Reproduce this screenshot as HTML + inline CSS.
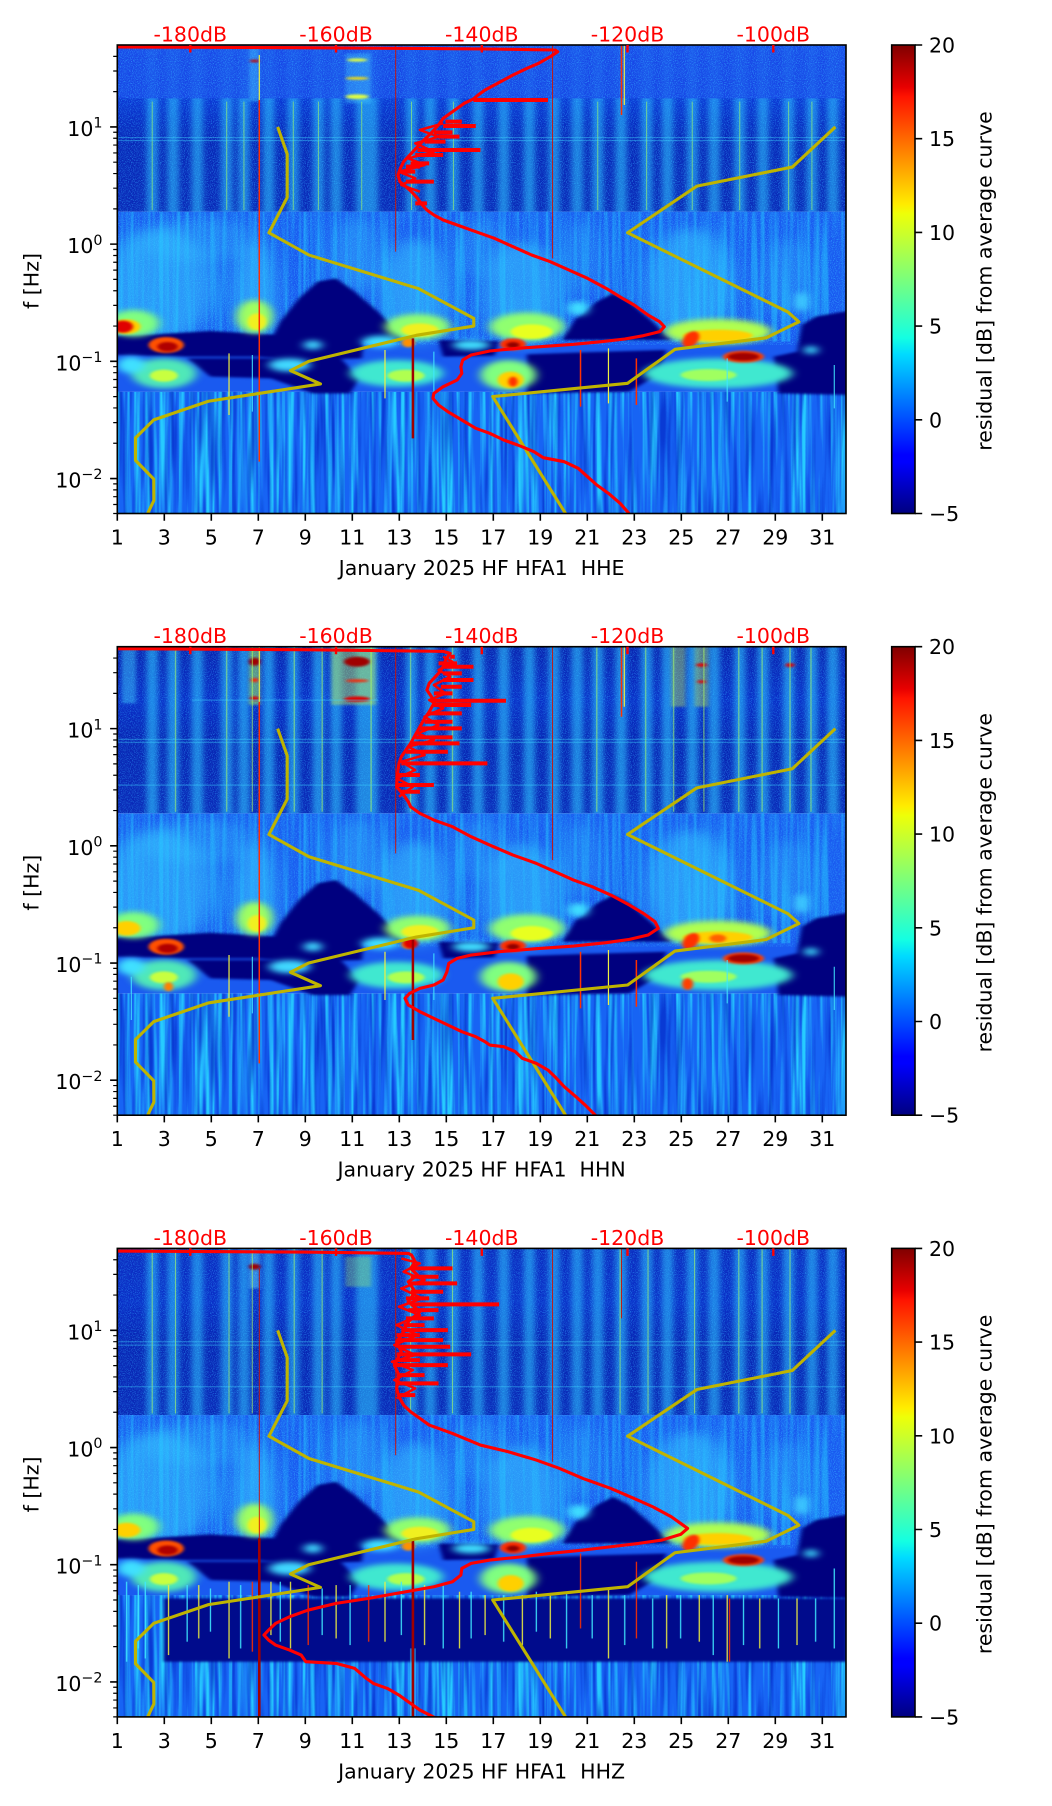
<!DOCTYPE html>
<html><head><meta charset="utf-8">
<style>
html,body{margin:0;padding:0;background:#fff;}
svg{display:block;}
text{font-family:"DejaVu Sans","Liberation Sans",sans-serif;font-size:20.5px;}
</style></head><body>
<svg width="1052" height="1806" viewBox="0 0 1052 1806" xmlns="http://www.w3.org/2000/svg">
<defs>
 <linearGradient id="jet" x1="0" y1="1" x2="0" y2="0">
  <stop offset="0" stop-color="#000080"/><stop offset="0.11" stop-color="#0000ff"/><stop offset="0.125" stop-color="#0000ff"/>
  <stop offset="0.34" stop-color="#00dbff"/><stop offset="0.375" stop-color="#14ffe2"/><stop offset="0.5" stop-color="#7bff7b"/>
  <stop offset="0.64" stop-color="#eeff08"/><stop offset="0.66" stop-color="#ffec00"/><stop offset="0.89" stop-color="#ff1300"/>
  <stop offset="0.91" stop-color="#e80000"/><stop offset="1" stop-color="#800000"/>
 </linearGradient>
 <linearGradient id="gM1" x1="0" y1="0" x2="0" y2="1">
  <stop offset="0" stop-color="#1a4ae8"/><stop offset="0.32" stop-color="#0c3ad6"/><stop offset="0.56" stop-color="#0828b8"/><stop offset="1" stop-color="#0a2ab8"/>
 </linearGradient>
 <linearGradient id="gM2" x1="0" y1="0" x2="0" y2="1">
  <stop offset="0" stop-color="#0a24b0"/><stop offset="0.32" stop-color="#0a30c8"/><stop offset="0.56" stop-color="#0826b4"/><stop offset="1" stop-color="#0a2ab8"/>
 </linearGradient>
 <linearGradient id="gM3" x1="0" y1="0" x2="0" y2="1">
  <stop offset="0" stop-color="#0c2cc0"/><stop offset="0.32" stop-color="#0a30c8"/><stop offset="0.56" stop-color="#0826b4"/><stop offset="1" stop-color="#0a2ab8"/>
 </linearGradient>
 <filter id="spk" x="0" y="0" width="1" height="1" color-interpolation-filters="sRGB">
  <feTurbulence type="fractalNoise" baseFrequency="0.5 0.35" numOctaves="1" seed="3"/>
  <feColorMatrix type="matrix" values="0 0 0 0 0.2  0 0 0 0 0.65  0 0 0 0 1  4 0 0 0 -1.9"/>
  <feComposite in2="SourceAlpha" operator="in"/>
 </filter>
 <filter id="strL" x="0" y="0" width="1" height="1" color-interpolation-filters="sRGB">
  <feTurbulence type="fractalNoise" baseFrequency="0.11 0.002" numOctaves="2" seed="7"/>
  <feColorMatrix type="matrix" values="0 0 0 0 0.15  0 0 0 0 0.8  0 0 0 0 1  3.2 0 0 0 -1.35"/>
  <feComposite in2="SourceAlpha" operator="in"/>
 </filter>
 <filter id="strD" x="0" y="0" width="1" height="1" color-interpolation-filters="sRGB">
  <feTurbulence type="fractalNoise" baseFrequency="0.09 0.003" numOctaves="2" seed="11"/>
  <feColorMatrix type="matrix" values="0 0 0 0 0  0 0 0 0 0.12  0 0 0 0 0.75  0 3.2 0 0 -1.5"/>
  <feComposite in2="SourceAlpha" operator="in"/>
 </filter>
 <filter id="b25" x="-50%" y="-50%" width="200%" height="200%" color-interpolation-filters="sRGB"><feGaussianBlur stdDeviation="22 16"/></filter>
 <filter id="b10" x="-50%" y="-50%" width="200%" height="200%" color-interpolation-filters="sRGB"><feGaussianBlur stdDeviation="10 8"/></filter>
 <filter id="b6" x="-20%" y="-20%" width="140%" height="140%" color-interpolation-filters="sRGB"><feGaussianBlur stdDeviation="5 4"/></filter>
 <filter id="b4" x="-50%" y="-50%" width="200%" height="200%" color-interpolation-filters="sRGB"><feGaussianBlur stdDeviation="4 3"/></filter>
 <filter id="bx" x="-10%" y="-5%" width="120%" height="110%" color-interpolation-filters="sRGB"><feGaussianBlur stdDeviation="6 1"/></filter>
 <clipPath id="cp"><rect x="0" y="0" width="1565.3" height="1405.5"/></clipPath>

 <g id="st">
  <rect x="63" y="0" width="24" height="500"/><rect x="108" y="0" width="24" height="500"/><rect x="160" y="0" width="24" height="500"/>
  <rect x="223" y="0" width="24" height="500"/><rect x="260" y="0" width="24" height="500"/><rect x="313" y="0" width="24" height="500"/>
  <rect x="366" y="0" width="24" height="500"/><rect x="420" y="0" width="24" height="500"/><rect x="458" y="0" width="24" height="500"/>
  <rect x="513" y="0" width="24" height="500"/><rect x="536" y="0" width="24" height="500"/><rect x="620" y="0" width="24" height="500"/>
  <rect x="660" y="0" width="24" height="500"/><rect x="710" y="0" width="24" height="500"/><rect x="763" y="0" width="24" height="500"/>
  <rect x="818" y="0" width="24" height="500"/><rect x="873" y="0" width="24" height="500"/><rect x="926" y="0" width="24" height="500"/>
  <rect x="976" y="0" width="24" height="500"/><rect x="1020" y="0" width="24" height="500"/><rect x="1070" y="0" width="24" height="500"/>
  <rect x="1125" y="0" width="24" height="500"/><rect x="1170" y="0" width="24" height="500"/><rect x="1223" y="0" width="24" height="500"/>
  <rect x="1270" y="0" width="24" height="500"/><rect x="1325" y="0" width="24" height="500"/><rect x="1375" y="0" width="24" height="500"/>
  <rect x="1430" y="0" width="24" height="500"/><rect x="1480" y="0" width="24" height="500"/><rect x="1525" y="0" width="24" height="500"/>
 </g>

 <g id="low">
  <rect x="0" y="500" width="1568" height="540" fill="#1a5af0"/>
  <rect x="0" y="500" width="1568" height="400" fill="#000" filter="url(#spk)" opacity=".7"/>
  <g fill="#38c8ff" filter="url(#b25)">
   <ellipse cx="90" cy="720" rx="120" ry="170" opacity=".55"/>
   <ellipse cx="175" cy="585" rx="130" ry="65" opacity=".3"/>
   <ellipse cx="295" cy="740" rx="45" ry="150" opacity=".6"/>
   <ellipse cx="515" cy="630" rx="55" ry="110" opacity=".35"/>
   <ellipse cx="640" cy="740" rx="75" ry="160" opacity=".55"/>
   <ellipse cx="780" cy="610" rx="60" ry="90" opacity=".25"/>
   <ellipse cx="870" cy="750" rx="85" ry="160" opacity=".55"/>
   <ellipse cx="1000" cy="640" rx="45" ry="110" opacity=".25"/>
   <ellipse cx="1230" cy="720" rx="95" ry="170" opacity=".55"/>
   <ellipse cx="1440" cy="700" rx="55" ry="120" opacity=".3"/>
  </g>
  <rect x="0" y="500" width="1568" height="390" fill="#000" filter="url(#strL)" opacity=".5"/>
  <g fill="#00007f" filter="url(#b6)">
   <polygon points="330,885 350,830 390,760 430,710 470,700 510,740 560,800 605,865 610,890"/>
   <polygon points="955,885 985,820 1030,770 1065,745 1100,770 1150,830 1190,885"/>
   <polygon points="1470,840 1500,815 1580,795 1580,1050 1420,1045 1410,935 1460,920"/>
   <polygon points="-10,872 80,868 200,858 300,866 420,876 530,882 525,940 400,945 300,935 150,935 -10,930"/>
   <polygon points="690,885 820,888 810,932 700,935"/>
   <polygon points="880,928 1000,922 1180,915 1160,990 1100,1040 880,1045"/>
   <polygon points="150,940 480,940 520,1000 500,1045 420,1045 330,1000 200,995"/>
  </g>
  <g filter="url(#b10)">
   <ellipse cx="35" cy="835" rx="55" ry="40" fill="#80ff80"/>
   <ellipse cx="295" cy="815" rx="38" ry="50" fill="#a0ff60"/>
   <ellipse cx="645" cy="845" rx="70" ry="38" fill="#90ff70"/>
   <ellipse cx="880" cy="845" rx="80" ry="42" fill="#90ff70"/>
   <ellipse cx="1290" cy="860" rx="115" ry="38" fill="#b0ff50"/>
   <ellipse cx="990" cy="790" rx="22" ry="22" fill="#40e0ff"/>
   <ellipse cx="1470" cy="770" rx="14" ry="30" fill="#40d0ff"/>
   <ellipse cx="100" cy="985" rx="70" ry="45" fill="#50e8b8"/>
   <ellipse cx="30" cy="960" rx="30" ry="25" fill="#40e0ff"/>
   <ellipse cx="370" cy="960" rx="45" ry="20" fill="#40d8ff"/>
   <ellipse cx="600" cy="985" rx="100" ry="40" fill="#40e8d0"/>
   <ellipse cx="840" cy="990" rx="60" ry="45" fill="#80ff80"/>
   <ellipse cx="1290" cy="985" rx="160" ry="45" fill="#40e8d0"/>
   <ellipse cx="1490" cy="915" rx="15" ry="12" fill="#40e0ff"/>
   <ellipse cx="420" cy="900" rx="20" ry="14" fill="#40d8ff"/>
   <ellipse cx="565" cy="890" rx="40" ry="18" fill="#40e0ff"/>
   <ellipse cx="760" cy="900" rx="40" ry="15" fill="#40e0ff"/>
  </g>
  <g filter="url(#b4)">
   <ellipse cx="300" cy="830" rx="20" ry="25" fill="#f0f020"/>
   <ellipse cx="650" cy="855" rx="40" ry="20" fill="#f0f020"/>
   <ellipse cx="890" cy="860" rx="45" ry="22" fill="#e8ff20"/>
   <ellipse cx="1290" cy="872" rx="75" ry="18" fill="#ffd000"/>
   <ellipse cx="100" cy="992" rx="30" ry="18" fill="#c8ff40"/>
   <ellipse cx="620" cy="992" rx="40" ry="18" fill="#b0ff50"/>
   <ellipse cx="845" cy="1005" rx="28" ry="25" fill="#ffd000"/>
   <ellipse cx="1270" cy="990" rx="60" ry="18" fill="#a0ff60"/>
   <ellipse cx="20" cy="845" rx="30" ry="22" fill="#ffd000"/>
   <ellipse cx="105" cy="900" rx="38" ry="24" fill="#ff5000"/>
   <ellipse cx="108" cy="905" rx="22" ry="14" fill="#b00000"/>
   <ellipse cx="850" cy="898" rx="28" ry="18" fill="#ff3000"/>
   <ellipse cx="850" cy="900" rx="14" ry="9" fill="#900000"/>
   <ellipse cx="1232" cy="883" rx="16" ry="26" fill="#ff3000" transform="rotate(25 1232 883)"/>
   <ellipse cx="1345" cy="935" rx="44" ry="18" fill="#ff4000"/>
   <ellipse cx="1345" cy="935" rx="34" ry="12" fill="#a00000"/>
   <ellipse cx="625" cy="893" rx="14" ry="14" fill="#ff9000"/>
  </g>
 </g>

 <g id="ax">
  <rect x="117.3" y="0" width="728.7" height="468.5" fill="none" stroke="#000" stroke-width="1.6"/>
  <path stroke="#000" stroke-width="1.6" fill="none" d="M117.3,468.5v7.2M164.3,468.5v7.2M211.3,468.5v7.2M258.3,468.5v7.2M305.3,468.5v7.2M352.3,468.5v7.2M399.3,468.5v7.2M446.3,468.5v7.2M493.3,468.5v7.2M540.3,468.5v7.2M587.3,468.5v7.2M634.3,468.5v7.2M681.3,468.5v7.2M728.3,468.5v7.2M775.3,468.5v7.2M822.3,468.5v7.2M110.1,81.92H117.3M110.1,199.12H117.3M110.1,316.32H117.3M110.1,433.52H117.3"/>
  <path stroke="#000" stroke-width="1.2" fill="none" d="M113.2,11.36H117.3M113.2,26H117.3M113.2,46.64H117.3M113.2,87.28H117.3M113.2,93.28H117.3M113.2,100.07H117.3M113.2,107.92H117.3M113.2,117.2H117.3M113.2,128.56H117.3M113.2,143.2H117.3M113.2,163.84H117.3M113.2,204.48H117.3M113.2,210.48H117.3M113.2,217.27H117.3M113.2,225.12H117.3M113.2,234.4H117.3M113.2,245.76H117.3M113.2,260.4H117.3M113.2,281.04H117.3M113.2,321.68H117.3M113.2,327.68H117.3M113.2,334.47H117.3M113.2,342.32H117.3M113.2,351.6H117.3M113.2,362.96H117.3M113.2,377.6H117.3M113.2,398.24H117.3M113.2,438.88H117.3M113.2,444.88H117.3M113.2,451.67H117.3M113.2,459.52H117.3M113.2,468.5H117.3"/>
  <path stroke="#ff0000" stroke-width="2.4" fill="none" d="M190.3,0v7.5M336,0v7.5M481.8,0v7.5M627.5,0v7.5M773.3,0v7.5"/>
  <g fill="#ff0000" text-anchor="middle">
   <text x="190.3" y="-3.5">-180dB</text><text x="336" y="-3.5">-160dB</text><text x="481.8" y="-3.5">-140dB</text><text x="627.5" y="-3.5">-120dB</text><text x="773.3" y="-3.5">-100dB</text>
  </g>
  <g fill="#000" text-anchor="middle">
   <text x="117.3" y="499.5">1</text><text x="164.3" y="499.5">3</text><text x="211.3" y="499.5">5</text><text x="258.3" y="499.5">7</text>
   <text x="305.3" y="499.5">9</text><text x="352.3" y="499.5">11</text><text x="399.3" y="499.5">13</text><text x="446.3" y="499.5">15</text>
   <text x="493.3" y="499.5">17</text><text x="540.3" y="499.5">19</text><text x="587.3" y="499.5">21</text><text x="634.3" y="499.5">23</text>
   <text x="681.3" y="499.5">25</text><text x="728.3" y="499.5">27</text><text x="775.3" y="499.5">29</text><text x="822.3" y="499.5">31</text>
  </g>
  <g fill="#000" text-anchor="end">
   <text x="102.5" y="90.9">10<tspan dy="-8.3" font-size="14.3">1</tspan></text>
   <text x="102.5" y="208.1">10<tspan dy="-8.3" font-size="14.3">0</tspan></text>
   <text x="102.5" y="325.3">10<tspan dy="-8.3" font-size="14.3">−1</tspan></text>
   <text x="102.5" y="442.5">10<tspan dy="-8.3" font-size="14.3">−2</tspan></text>
  </g>
  <text transform="translate(38.5,236) rotate(-90)" text-anchor="middle" fill="#000">f [Hz]</text>
  <rect x="891.7" y="0" width="23.3" height="468.5" fill="url(#jet)" stroke="#000" stroke-width="1.6"/>
  <path stroke="#000" stroke-width="1.6" fill="none" d="M915,0H922.2M915,93.7H922.2M915,187.4H922.2M915,281.1H922.2M915,374.8H922.2M915,468.5H922.2"/>
  <g fill="#000">
   <text x="929" y="7.5">20</text><text x="929" y="101.2">15</text><text x="929" y="194.9">10</text>
   <text x="929" y="288.6">5</text><text x="929" y="382.3">0</text><text x="929" y="476">−5</text>
  </g>
  <text transform="translate(991.5,236) rotate(-90)" text-anchor="middle" fill="#000">residual [dB] from average curve</text>
 </g>
</defs>

<rect x="0" y="0" width="1052" height="1806" fill="#fff"/>

<!-- ================= PANEL 1 ================= -->
<g transform="translate(117.3,45) scale(0.46555,0.333333)">
 <g clip-path="url(#cp)">
  <rect x="0" y="0" width="1568" height="500" fill="url(#gM1)"/>
  <rect x="0" y="0" width="1568" height="500" fill="#000" filter="url(#spk)" opacity=".55"/>
  <g fill="#30c8ff" opacity=".55" filter="url(#bx)"><use href="#st"/></g>
  <rect x="0" y="0" width="1568" height="160" fill="#1a4ae8" opacity=".82"/>
  <rect x="0" y="0" width="1568" height="160" fill="#000" filter="url(#spk)" opacity=".6"/>
  <g filter="url(#b4)">
   <rect x="283" y="0" width="22" height="170" fill="#40c8ff" opacity=".45"/>
   <rect x="490" y="25" width="55" height="150" fill="#40c8ff" opacity=".4"/>
   <ellipse cx="515" cy="45" rx="22" ry="5" fill="#e0ff40"/>
   <ellipse cx="515" cy="100" rx="25" ry="4" fill="#ffe000"/>
   <ellipse cx="515" cy="155" rx="25" ry="7" fill="#e0ff40"/>
   <ellipse cx="295" cy="48" rx="10" ry="4" fill="#c00000"/>
  </g>
  <path fill="none" stroke="#a8ff60" stroke-width="1" opacity=".6" vector-effect="non-scaling-stroke" d="M75,170V495M235,170V495M272,170V495M378,170V495M432,170V495M525,170V495M632,170V495M722,170V495M1032,170V495M1137,170V495M1235,170V495M1337,170V495M1442,170V495M1492,170V495"/>
  <path fill="none" stroke="#40d8ff" stroke-width="1" opacity=".45" vector-effect="non-scaling-stroke" d="M0,278H1568M0,287H1568"/>

  <rect x="0" y="1040" width="1568" height="370" fill="#1764f4"/>
  <rect x="0" y="1040" width="1568" height="370" fill="#000" filter="url(#strL)"/>
  <rect x="0" y="1040" width="1568" height="370" fill="#000" filter="url(#strD)" opacity=".6"/>
  <use href="#low"/>
  <g filter="url(#b4)">
   <ellipse cx="12" cy="845" rx="22" ry="18" fill="#e00000"/>
   <ellipse cx="850" cy="1010" rx="10" ry="15" fill="#ff3000"/>
  </g>
  <path fill="none" stroke="#ff3000" stroke-width="1.5" vector-effect="non-scaling-stroke" d="M305,165V1250M995,915V1085M1115,940V1080M1083,0V210"/>
  <path fill="none" stroke="#d01000" stroke-width="0.9" vector-effect="non-scaling-stroke" d="M598,0V620M935,0V640"/>
  <path fill="none" stroke="#a00000" stroke-width="2.5" vector-effect="non-scaling-stroke" d="M635,880V1180"/>
  <path fill="none" stroke="#f0f040" stroke-width="1.2" vector-effect="non-scaling-stroke" d="M305,30V165M1089,0V180M240,925V1110M575,915V1060M1055,910V1075"/>
  <path fill="none" stroke="#40e8ff" stroke-width="1" vector-effect="non-scaling-stroke" d="M290,930V1100M680,920V1060M1310,940V1070M1540,960V1090"/>

  <polyline fill="none" stroke="#bfb400" stroke-width="3.1" stroke-linejoin="round" vector-effect="non-scaling-stroke" points="344.5,245.8 364.9,326.8 364.9,457.5 325.7,563.3 411.8,630.2 647.5,731.1 765.7,820.1 765.7,843.1 642,871 411,949 371.9,976.8 436.4,1016.9 195.7,1068.7 78.3,1124.7 39.1,1178.6 39.1,1246.1 78.3,1302.1 78.5,1366.5 65,1406.4 63,1412"/>
  <polyline fill="none" stroke="#bfb400" stroke-width="3.1" stroke-linejoin="round" vector-effect="non-scaling-stroke" points="1542.4,245.8 1449.9,366.2 1244.9,423.4 1096.1,563.3 1440.6,801.2 1464.1,830.4 1393.7,878.4 1197.9,913 1096.1,1014.9 806.4,1054.8 963.2,1406.4 965,1412"/>

  <polyline fill="none" stroke="#ff0000" stroke-width="3.1" stroke-linejoin="round" vector-effect="non-scaling-stroke" points="-5,6 400,8 800,12 940,15 946,20 930,35 905,55 880,70 850,90 830,105 810,120 790,135 775,150 765,162 745,175 730,190 715,205 700,220 690,240 680,255 670,270 655,290 645,305 635,320 625,335 615,350 608,370 603,390 607,410 620,425 632,440 645,460 655,480 665,495 680,510 700,525 730,540 770,560 810,580 850,605 890,630 930,650 970,675 1010,700 1050,730 1085,760 1110,780 1140,810 1165,830 1175,845 1165,860 1130,872 1090,882 1040,890 980,898 920,904 860,910 800,918 760,930 742,945 738,965 740,985 730,1005 700,1025 680,1045 678,1060 690,1080 710,1100 740,1125 770,1150 800,1165 830,1185 860,1200 895,1220 915,1238 960,1250 990,1270 1010,1295 1030,1320 1055,1345 1080,1375 1102,1410"/>
  <polyline fill="none" stroke="#ff0000" stroke-width="2.5" stroke-linejoin="round" vector-effect="non-scaling-stroke" points="700,235 650,255 690,275 640,295 680,320 625,340 660,360 605,380 640,400 610,420 650,440"/>
  <path fill="none" stroke="#ff0000" stroke-width="4" vector-effect="non-scaling-stroke" d="M765,165H925M700,243H770M690,275H735M645,315H780M630,355H670M610,380H640M620,410H680M640,475H665M705,230H740M680,262H720M660,290H705M640,330H700M620,365H650"/>
 </g>
</g>
<use href="#ax" transform="translate(0,45)"/>
<text x="481.6" y="575" text-anchor="middle" fill="#000">January 2025 HF HFA1&#160; HHE</text>

<!-- ================= PANEL 2 ================= -->
<g transform="translate(117.3,646.7) scale(0.46555,0.333333)">
 <g clip-path="url(#cp)">
  <rect x="0" y="0" width="1568" height="500" fill="url(#gM2)"/>
  <rect x="0" y="0" width="1568" height="500" fill="#000" filter="url(#spk)" opacity=".5"/>
  <g fill="#30c8ff" opacity=".58" filter="url(#bx)"><use href="#st"/></g>
  <g filter="url(#b4)">
   <rect x="10" y="0" width="30" height="170" fill="#40d0ff" opacity=".45"/>
   <rect x="283" y="0" width="24" height="175" fill="#a0f060" opacity=".55"/>
   <rect x="460" y="0" width="95" height="175" fill="#c0f050" opacity=".45"/>
   <rect x="1190" y="0" width="30" height="180" fill="#c0f050" opacity=".4"/>
   <rect x="1240" y="0" width="30" height="180" fill="#c0f050" opacity=".4"/>
   <ellipse cx="295" cy="45" rx="12" ry="12" fill="#a00000"/>
   <ellipse cx="515" cy="45" rx="28" ry="15" fill="#a00000"/>
   <ellipse cx="295" cy="100" rx="8" ry="6" fill="#ff2000"/>
   <ellipse cx="515" cy="102" rx="25" ry="4" fill="#ff2000"/>
   <ellipse cx="295" cy="155" rx="10" ry="6" fill="#e00000"/>
   <ellipse cx="515" cy="157" rx="28" ry="8" fill="#e00000"/>
   <ellipse cx="1255" cy="55" rx="12" ry="5" fill="#e00000"/>
   <ellipse cx="1445" cy="55" rx="10" ry="6" fill="#e00000"/>
   <ellipse cx="1255" cy="105" rx="10" ry="4" fill="#e00000"/>
  </g>
  <path fill="none" stroke="#b0ff60" stroke-width="1.1" opacity=".65" vector-effect="non-scaling-stroke" d="M125,0V495M235,0V495M290,0V495M380,0V495M440,0V495M545,0V495M630,0V495M720,0V495M1030,0V495M1135,0V495M1195,0V495M1260,0V495M1335,0V495M1385,0V495M1445,0V495M1490,0V495"/>
  <path fill="none" stroke="#40d8ff" stroke-width="1" opacity=".5" vector-effect="non-scaling-stroke" d="M160,160H560M0,278H1568M0,287H1568M0,415H1568"/>

  <rect x="0" y="1040" width="1568" height="370" fill="#1764f4"/>
  <rect x="0" y="1040" width="1568" height="370" fill="#000" filter="url(#strL)"/>
  <rect x="0" y="1040" width="1568" height="370" fill="#000" filter="url(#strD)" opacity=".6"/>
  <use href="#low"/>
  <g filter="url(#b4)">
   <ellipse cx="630" cy="890" rx="16" ry="16" fill="#e00000"/>
   <ellipse cx="1290" cy="875" rx="18" ry="12" fill="#ff6000"/>
   <ellipse cx="1225" cy="1012" rx="12" ry="18" fill="#ff4000"/>
   <ellipse cx="110" cy="1020" rx="10" ry="14" fill="#ff8000"/>
  </g>
  <path fill="none" stroke="#ff3000" stroke-width="1.5" vector-effect="non-scaling-stroke" d="M305,165V1250M995,915V1085M1115,940V1080M1083,0V210"/>
  <path fill="none" stroke="#d01000" stroke-width="0.9" vector-effect="non-scaling-stroke" d="M598,0V620M935,0V640"/>
  <path fill="none" stroke="#a00000" stroke-width="2.5" vector-effect="non-scaling-stroke" d="M635,880V1180"/>
  <path fill="none" stroke="#f0f040" stroke-width="1.2" vector-effect="non-scaling-stroke" d="M305,0V165M1089,0V180M240,925V1110M575,915V1060M1055,910V1075"/>
  <path fill="none" stroke="#40e8ff" stroke-width="1" vector-effect="non-scaling-stroke" d="M30,990V1120M290,930V1100M680,920V1060M1310,940V1070M1540,960V1090"/>

  <polyline fill="none" stroke="#bfb400" stroke-width="3.1" stroke-linejoin="round" vector-effect="non-scaling-stroke" points="344.5,245.8 364.9,326.8 364.9,457.5 325.7,563.3 411.8,630.2 647.5,731.1 765.7,820.1 765.7,843.1 642,871 411,949 371.9,976.8 436.4,1016.9 195.7,1068.7 78.3,1124.7 39.1,1178.6 39.1,1246.1 78.3,1302.1 78.5,1366.5 65,1406.4 63,1412"/>
  <polyline fill="none" stroke="#bfb400" stroke-width="3.1" stroke-linejoin="round" vector-effect="non-scaling-stroke" points="1542.4,245.8 1449.9,366.2 1244.9,423.4 1096.1,563.3 1440.6,801.2 1464.1,830.4 1393.7,878.4 1197.9,913 1096.1,1014.9 806.4,1054.8 963.2,1406.4 965,1412"/>

  <polyline fill="none" stroke="#ff0000" stroke-width="3.1" stroke-linejoin="round" vector-effect="non-scaling-stroke" points="-5,6 400,9 700,14 715,20 705,40 700,60 690,80 680,95 670,110 665,130 675,150 680,170 670,195 660,215 650,240 640,265 630,290 620,310 610,330 605,350 602,380 600,420 615,445 625,465 630,480 650,500 680,520 720,540 760,570 800,595 850,625 900,650 940,675 980,700 1020,720 1060,745 1100,775 1130,800 1155,825 1162,845 1140,865 1100,878 1050,888 980,898 900,906 820,915 760,925 730,935 712,950 708,975 700,1000 680,1015 650,1025 628,1040 618,1055 625,1075 650,1095 680,1115 710,1135 740,1155 770,1170 790,1185 800,1195 830,1200 855,1215 870,1235 900,1250 925,1270 940,1290 960,1320 985,1350 1005,1375 1030,1410"/>
  <polyline fill="none" stroke="#ff0000" stroke-width="2.5" stroke-linejoin="round" vector-effect="non-scaling-stroke" points="700,30 720,45 690,70 715,90 680,115 705,140 670,160 700,185 660,210 690,235 645,260 680,280 625,300 660,325 610,345 640,370 600,395 635,420 605,450"/>
  <path fill="none" stroke="#ff0000" stroke-width="4" vector-effect="non-scaling-stroke" d="M700,60H765M700,80H740M700,100H765M695,120H740M680,140H720M680,162H835M680,175H760M670,200H740M660,225H720M650,245H740M640,272H720M630,290H735M620,315H710M610,350H795M605,385H650M600,415H680M610,435H650M715,30H725M690,50H730"/>
 </g>
</g>
<use href="#ax" transform="translate(0,646.7)"/>
<text x="481.6" y="1176.7" text-anchor="middle" fill="#000">January 2025 HF HFA1&#160; HHN</text>

<!-- ================= PANEL 3 ================= -->
<g transform="translate(117.3,1248.4) scale(0.46555,0.333333)">
 <g clip-path="url(#cp)">
  <rect x="0" y="0" width="1568" height="500" fill="url(#gM3)"/>
  <rect x="0" y="0" width="1568" height="500" fill="#000" filter="url(#spk)" opacity=".5"/>
  <g fill="#30c8ff" opacity=".55" filter="url(#bx)"><use href="#st"/></g>
  <g filter="url(#b4)">
   <rect x="284" y="0" width="22" height="120" fill="#60e0ff" opacity=".5"/>
   <rect x="490" y="25" width="55" height="90" fill="#a0f060" opacity=".35"/>
   <ellipse cx="295" cy="55" rx="12" ry="9" fill="#a00000"/>
  </g>
  <path fill="none" stroke="#b0ff60" stroke-width="1.1" opacity=".6" vector-effect="non-scaling-stroke" d="M75,0V495M125,0V495M240,0V495M290,0V495M380,0V495M440,0V495M630,0V495M720,0V495M1080,0V495M1140,0V495M1240,0V495M1335,0V495M1385,0V495M1445,0V495"/>
  <path fill="none" stroke="#40d8ff" stroke-width="1" opacity=".45" vector-effect="non-scaling-stroke" d="M0,280H1568M0,290H1568M0,415H1568"/>

  <rect x="0" y="1040" width="1568" height="370" fill="#1764f4"/>
  <rect x="0" y="1040" width="1568" height="370" fill="#000" filter="url(#strL)"/>
  <rect x="0" y="1040" width="1568" height="370" fill="#000" filter="url(#strD)" opacity=".6"/>
  <use href="#low"/>
  <rect x="100" y="1050" width="1468" height="190" fill="#000b8c" filter="url(#b4)"/>
  <path fill="none" stroke="#40e8ff" stroke-width="1.2" vector-effect="non-scaling-stroke" d="M20,1000V1240M45,1010V1200M60,1000V1230M150,1010V1180M200,1020V1150M265,1010V1200M350,1000V1180M440,1020V1160M500,1010V1190M610,1000V1160M700,1010V1200M760,1030V1170M830,1040V1180M900,1030V1150M965,1030V1200M1020,1040V1170M1090,1040V1190M1150,1050V1200M1210,1040V1170M1280,1040V1220M1345,1040V1190M1420,1050V1200M1500,1050V1180M1540,960V1200"/>
  <path fill="none" stroke="#f0f040" stroke-width="1.2" vector-effect="non-scaling-stroke" d="M110,1010V1220M175,1010V1170M240,1000V1230M330,1000V1160M372,1000V1200M470,1010V1170M575,1000V1180M660,1010V1190M735,1030V1200M790,1040V1160M870,1040V1190M930,1040V1170M1055,1020V1230M1180,1040V1200M1250,1040V1180M1310,1040V1240M1380,1050V1200M1460,1050V1190"/>
  <path fill="none" stroke="#ff3000" stroke-width="1.2" vector-effect="non-scaling-stroke" d="M290,1000V1210M410,1010V1190M540,1010V1180M995,915V1140M1115,940V1170M1315,1050V1240"/>
  <path fill="none" stroke="#40e0ff" stroke-width="6" opacity=".45" vector-effect="non-scaling-stroke" d="M635,1200V1410"/>
  <path fill="none" stroke="#a00000" stroke-width="2.6" vector-effect="non-scaling-stroke" d="M305,870V1410M635,870V1410"/>
  <path fill="none" stroke="#d01000" stroke-width="0.9" vector-effect="non-scaling-stroke" d="M305,60V870M598,0V620M935,0V640M1083,0V210"/>

  <polyline fill="none" stroke="#bfb400" stroke-width="3.1" stroke-linejoin="round" vector-effect="non-scaling-stroke" points="344.5,245.8 364.9,326.8 364.9,457.5 325.7,563.3 411.8,630.2 647.5,731.1 765.7,820.1 765.7,843.1 642,871 411,949 371.9,976.8 436.4,1016.9 195.7,1068.7 78.3,1124.7 39.1,1178.6 39.1,1246.1 78.3,1302.1 78.5,1366.5 65,1406.4 63,1412"/>
  <polyline fill="none" stroke="#bfb400" stroke-width="3.1" stroke-linejoin="round" vector-effect="non-scaling-stroke" points="1542.4,245.8 1449.9,366.2 1244.9,423.4 1096.1,563.3 1440.6,801.2 1464.1,830.4 1393.7,878.4 1197.9,913 1096.1,1014.9 806.4,1054.8 963.2,1406.4 965,1412"/>

  <polyline fill="none" stroke="#ff0000" stroke-width="3.1" stroke-linejoin="round" vector-effect="non-scaling-stroke" points="-5,8 400,11 625,15 632,20 640,40 630,60 645,80 625,100 640,130 625,160 650,190 625,220 615,250 600,280 610,310 595,350 605,380 600,420 605,445 615,470 630,490 650,510 670,530 720,555 780,590 840,610 900,635 950,660 1000,690 1060,720 1110,750 1150,775 1190,805 1215,830 1225,840 1210,858 1170,875 1120,885 1060,895 1000,905 930,915 870,925 800,935 760,945 740,960 738,980 720,1000 680,1015 600,1035 540,1050 470,1065 410,1085 370,1105 340,1125 325,1145 315,1160 325,1175 340,1190 370,1205 395,1220 405,1240 470,1245 510,1260 535,1290 550,1305 580,1320 605,1340 625,1360 650,1385 685,1410"/>
  <polyline fill="none" stroke="#ff0000" stroke-width="2.5" stroke-linejoin="round" vector-effect="non-scaling-stroke" points="610,30 650,45 615,70 660,95 610,120 655,150 605,175 650,200 600,230 645,260 595,290 640,320 590,340 635,365 595,395 640,420 600,450"/>
  <path fill="none" stroke="#ff0000" stroke-width="4" vector-effect="non-scaling-stroke" d="M630,60H720M630,85H690M625,105H730M630,130H700M630,168H820M625,185H690M620,210H680M610,245H710M600,275H700M605,295H715M600,318H760M595,350H710M600,380H660M600,405H690M605,440H640M620,150H670M615,230H660M600,260H650M598,335H650"/>
 </g>
</g>
<use href="#ax" transform="translate(0,1248.4)"/>
<text x="481.6" y="1778.4" text-anchor="middle" fill="#000">January 2025 HF HFA1&#160; HHZ</text>
</svg>
</body></html>
